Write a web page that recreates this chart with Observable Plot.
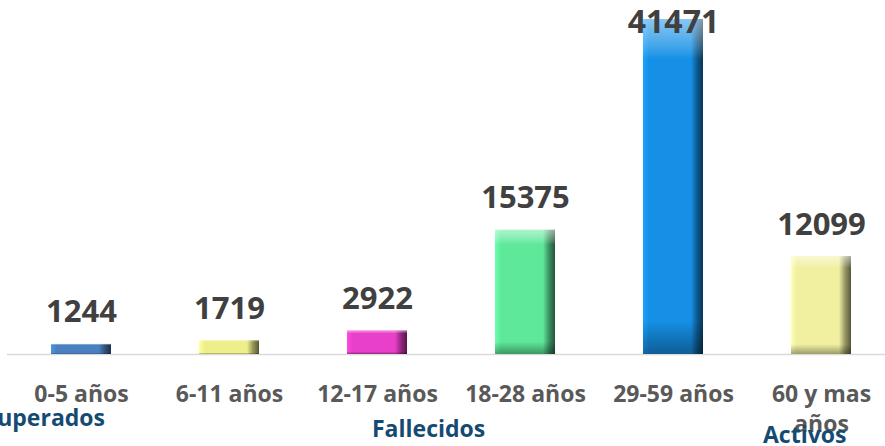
<!DOCTYPE html>
<html>
<head>
<meta charset="utf-8">
<script src="https://cdn.jsdelivr.net/npm/d3@7"></script>
<script src="https://cdn.jsdelivr.net/npm/@observablehq/plot@0.6"></script>
<style>
  html, body { margin: 0; padding: 0; background: #fff; }
  #wrap { position: relative; width: 885px; height: 446px; overflow: hidden; font-family: "Open Sans", sans-serif; }
  .lbl { position: absolute; font-weight: bold; font-size: 23px; line-height: 23px; color: #154a72; white-space: nowrap; }
</style>
</head>
<body>
<div id="wrap"></div>
<script>
const categories = ["0-5 años", "6-11 años", "12-17 años", "18-28 años", "29-59 años", "60 y mas años"];
const values = [1244, 1719, 2922, 15375, 41471, 12099];
const colors = ["#4a80c0", "#eeee8a", "#e840c8", "#5ee89a", "#1590e6", "#f0f0a0"];
const statusLabels = ["Recuperados", "Fallecidos", "Activos"];

const data = categories.map((c, i) => ({category: c, value: values[i], color: colors[i], id: "bevel" + i}));
const maxValue = d3.max(values);

function shade(c, k) {
  const col = d3.color(c);
  return k > 0 ? col.brighter(k).formatHex() : col.darker(-k).formatHex();
}

const defsMark = () => {
  const defs = d3.create("svg:defs");
  data.forEach(d => {
    const g = defs.append("linearGradient").attr("id", d.id).attr("x1", 0).attr("x2", 1).attr("y1", 0).attr("y2", 0);
    g.append("stop").attr("offset", "0").attr("stop-color", shade(d.color, 0.35));
    g.append("stop").attr("offset", "0.1").attr("stop-color", d.color);
    g.append("stop").attr("offset", "0.8").attr("stop-color", d.color);
    g.append("stop").attr("offset", "0.9").attr("stop-color", shade(d.color, -1.3));
    g.append("stop").attr("offset", "1").attr("stop-color", shade(d.color, -2.8));
  });
  const v = defs.append("linearGradient").attr("id", "vshade").attr("x1", 0).attr("x2", 0).attr("y1", 0).attr("y2", 1);
  v.append("stop").attr("offset", "0").attr("stop-color", "#fff").attr("stop-opacity", 0.5);
  v.append("stop").attr("offset", "0.08").attr("stop-color", "#fff").attr("stop-opacity", 0.2);
  v.append("stop").attr("offset", "0.12").attr("stop-color", "#fff").attr("stop-opacity", 0);
  v.append("stop").attr("offset", "0.9").attr("stop-color", "#000").attr("stop-opacity", 0);
  v.append("stop").attr("offset", "1").attr("stop-color", "#000").attr("stop-opacity", 0.35);
  return defs.node();
};

const chart = Plot.plot({
  width: 885,
  height: 446,
  marginLeft: 7,
  marginRight: 0,
  marginTop: 19,
  marginBottom: 92,
  style: {fontFamily: "Open Sans, sans-serif", fontWeight: "bold", background: "#fff"},
  x: {domain: categories, range: [7, 895], padding: 0},
  y: {domain: [0, maxValue], axis: null},
  color: {type: "identity"},
  marks: [
    defsMark,
    Plot.ruleY([0], {stroke: "#d9d9d9", strokeWidth: 1.5}),
    Plot.barY(data, {x: "category", y: "value", fill: d => `url(#${d.id})`, insetLeft: 44, insetRight: 44}),
    Plot.barY(data, {x: "category", y: "value", fill: () => "url(#vshade)", insetLeft: 44, insetRight: 44}),
    Plot.text(data.filter(d => d.value < maxValue), {x: "category", y: "value", text: d => String(d.value), lineAnchor: "bottom", dy: -22, fontSize: 31, fill: "#404040"}),
    Plot.text(data.filter(d => d.value === maxValue), {x: "category", y: "value", text: d => String(d.value), lineAnchor: "bottom", dy: 13, fontSize: 32, fill: "#404040"}),
    Plot.axisX({tickSize: 0, tickPadding: 26, fontSize: 23, fill: "#595959", lineHeight: 1.3, label: null,
      tickFormat: d => d.replace("mas ", "mas\n")})
  ]
});

const wrap = document.getElementById("wrap");
wrap.appendChild(chart);

const positions = [
  {style: "right:780px; top:406px;"},
  {style: "left:372px; top:417px;"},
  {style: "left:763px; top:423px;"}
];
statusLabels.forEach((t, i) => {
  const s = document.createElement("span");
  s.className = "lbl";
  s.setAttribute("style", positions[i].style);
  s.textContent = t;
  wrap.appendChild(s);
});
</script>
</body>
</html>
